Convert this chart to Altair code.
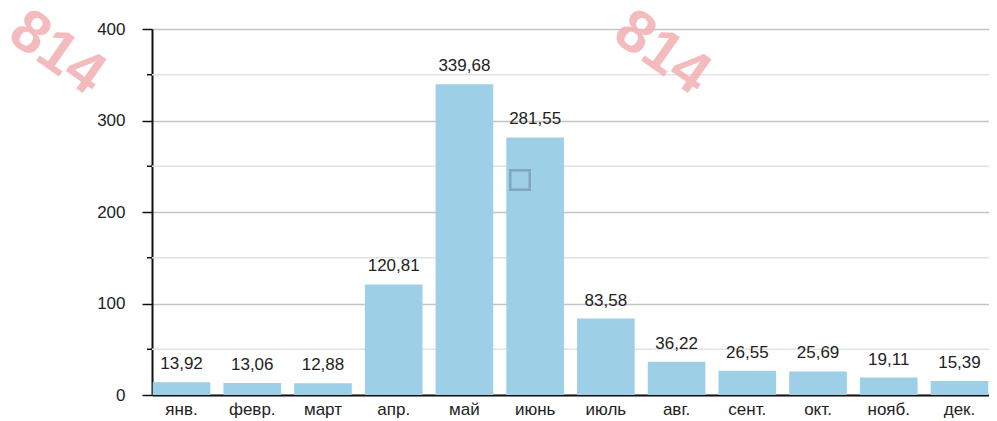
import altair as alt
import pandas as pd

months = ["янв.", "февр.", "март", "апр.", "май", "июнь", "июль", "авг.", "сент.", "окт.", "нояб.", "дек."]
values = [13.92, 13.06, 12.88, 120.81, 339.68, 281.55, 83.58, 36.22, 26.55, 25.69, 19.11, 15.39]
major_ticks = [0, 100, 200, 300, 400]
minor_ticks = [50, 150, 250, 350]
watermark_text = "814"

df = pd.DataFrame({
    "month": months,
    "value": values,
    "label": [f"{v:.2f}".replace(".", ",") for v in values],
})
minor_df = pd.DataFrame({"v": minor_ticks})

FONT = "Liberation Sans"
BAR = "#9dcfe7"

yscale = alt.Scale(domain=[0, 400], nice=False)
xscale = alt.Scale(paddingInner=0.185, paddingOuter=0.01)

minor_grid = alt.Chart(minor_df).mark_rule(color="#e2e2e2", strokeWidth=1.5).encode(
    y=alt.Y("v:Q", scale=yscale)
)
minor_tick = alt.Chart(minor_df).mark_rule(color="#111", strokeWidth=1.5).encode(
    y=alt.Y("v:Q", scale=yscale), x=alt.value(-5), x2=alt.value(0)
)

bars = alt.Chart(df).mark_bar(color=BAR).encode(
    x=alt.X("month:N", sort=months, scale=xscale, title=None,
            axis=alt.Axis(labelAngle=0, ticks=False, domainColor="#111", domainWidth=2,
                          labelFont=FONT, labelFontSize=17, labelColor="#222",
                          labelPadding=6, grid=False)),
    y=alt.Y("value:Q", scale=yscale, title=None,
            axis=alt.Axis(values=major_ticks, tickSize=10, tickColor="#111", tickWidth=1.5,
                          domainColor="#111", domainWidth=2, labelFont=FONT,
                          labelFontSize=17, labelColor="#222", labelPadding=17,
                          grid=True, gridColor="#c4c4c4", gridWidth=1.5)),
)

text = alt.Chart(df).mark_text(font=FONT, fontSize=17, color="#222", baseline="bottom", dy=-9).encode(
    x=alt.X("month:N", sort=months, scale=xscale),
    y=alt.Y("value:Q", scale=yscale),
    text="label:N",
)

wm_df = pd.DataFrame({"t": [watermark_text, watermark_text], "px": [-95, 510], "py": [24, 24]})
watermark = alt.Chart(wm_df).mark_text(
    font=FONT, fontSize=60, fontWeight="bold", color="#f3b0b4", opacity=0.85, angle=35,
    align="center", baseline="middle"
).encode(x=alt.X("px:Q", scale=None), y=alt.Y("py:Q", scale=None), text="t:N")

marker = alt.Chart(pd.DataFrame({"a": [1]})).mark_square(
    size=380, filled=False, stroke="#7a9fb3", strokeWidth=2.5, opacity=0.8
).encode(x=alt.value(368), y=alt.value(151))

chart = alt.layer(minor_grid, bars, minor_tick, text, marker, watermark).properties(
    width=837, height=366,
    padding={"left": 144, "top": 21, "right": 0, "bottom": 23},
    autosize=alt.AutoSizeParams(type="none"),
).configure_view(stroke=None).configure(background="white")

chart.save("out.html", embed_options={"renderer": "svg", "actions": False})
